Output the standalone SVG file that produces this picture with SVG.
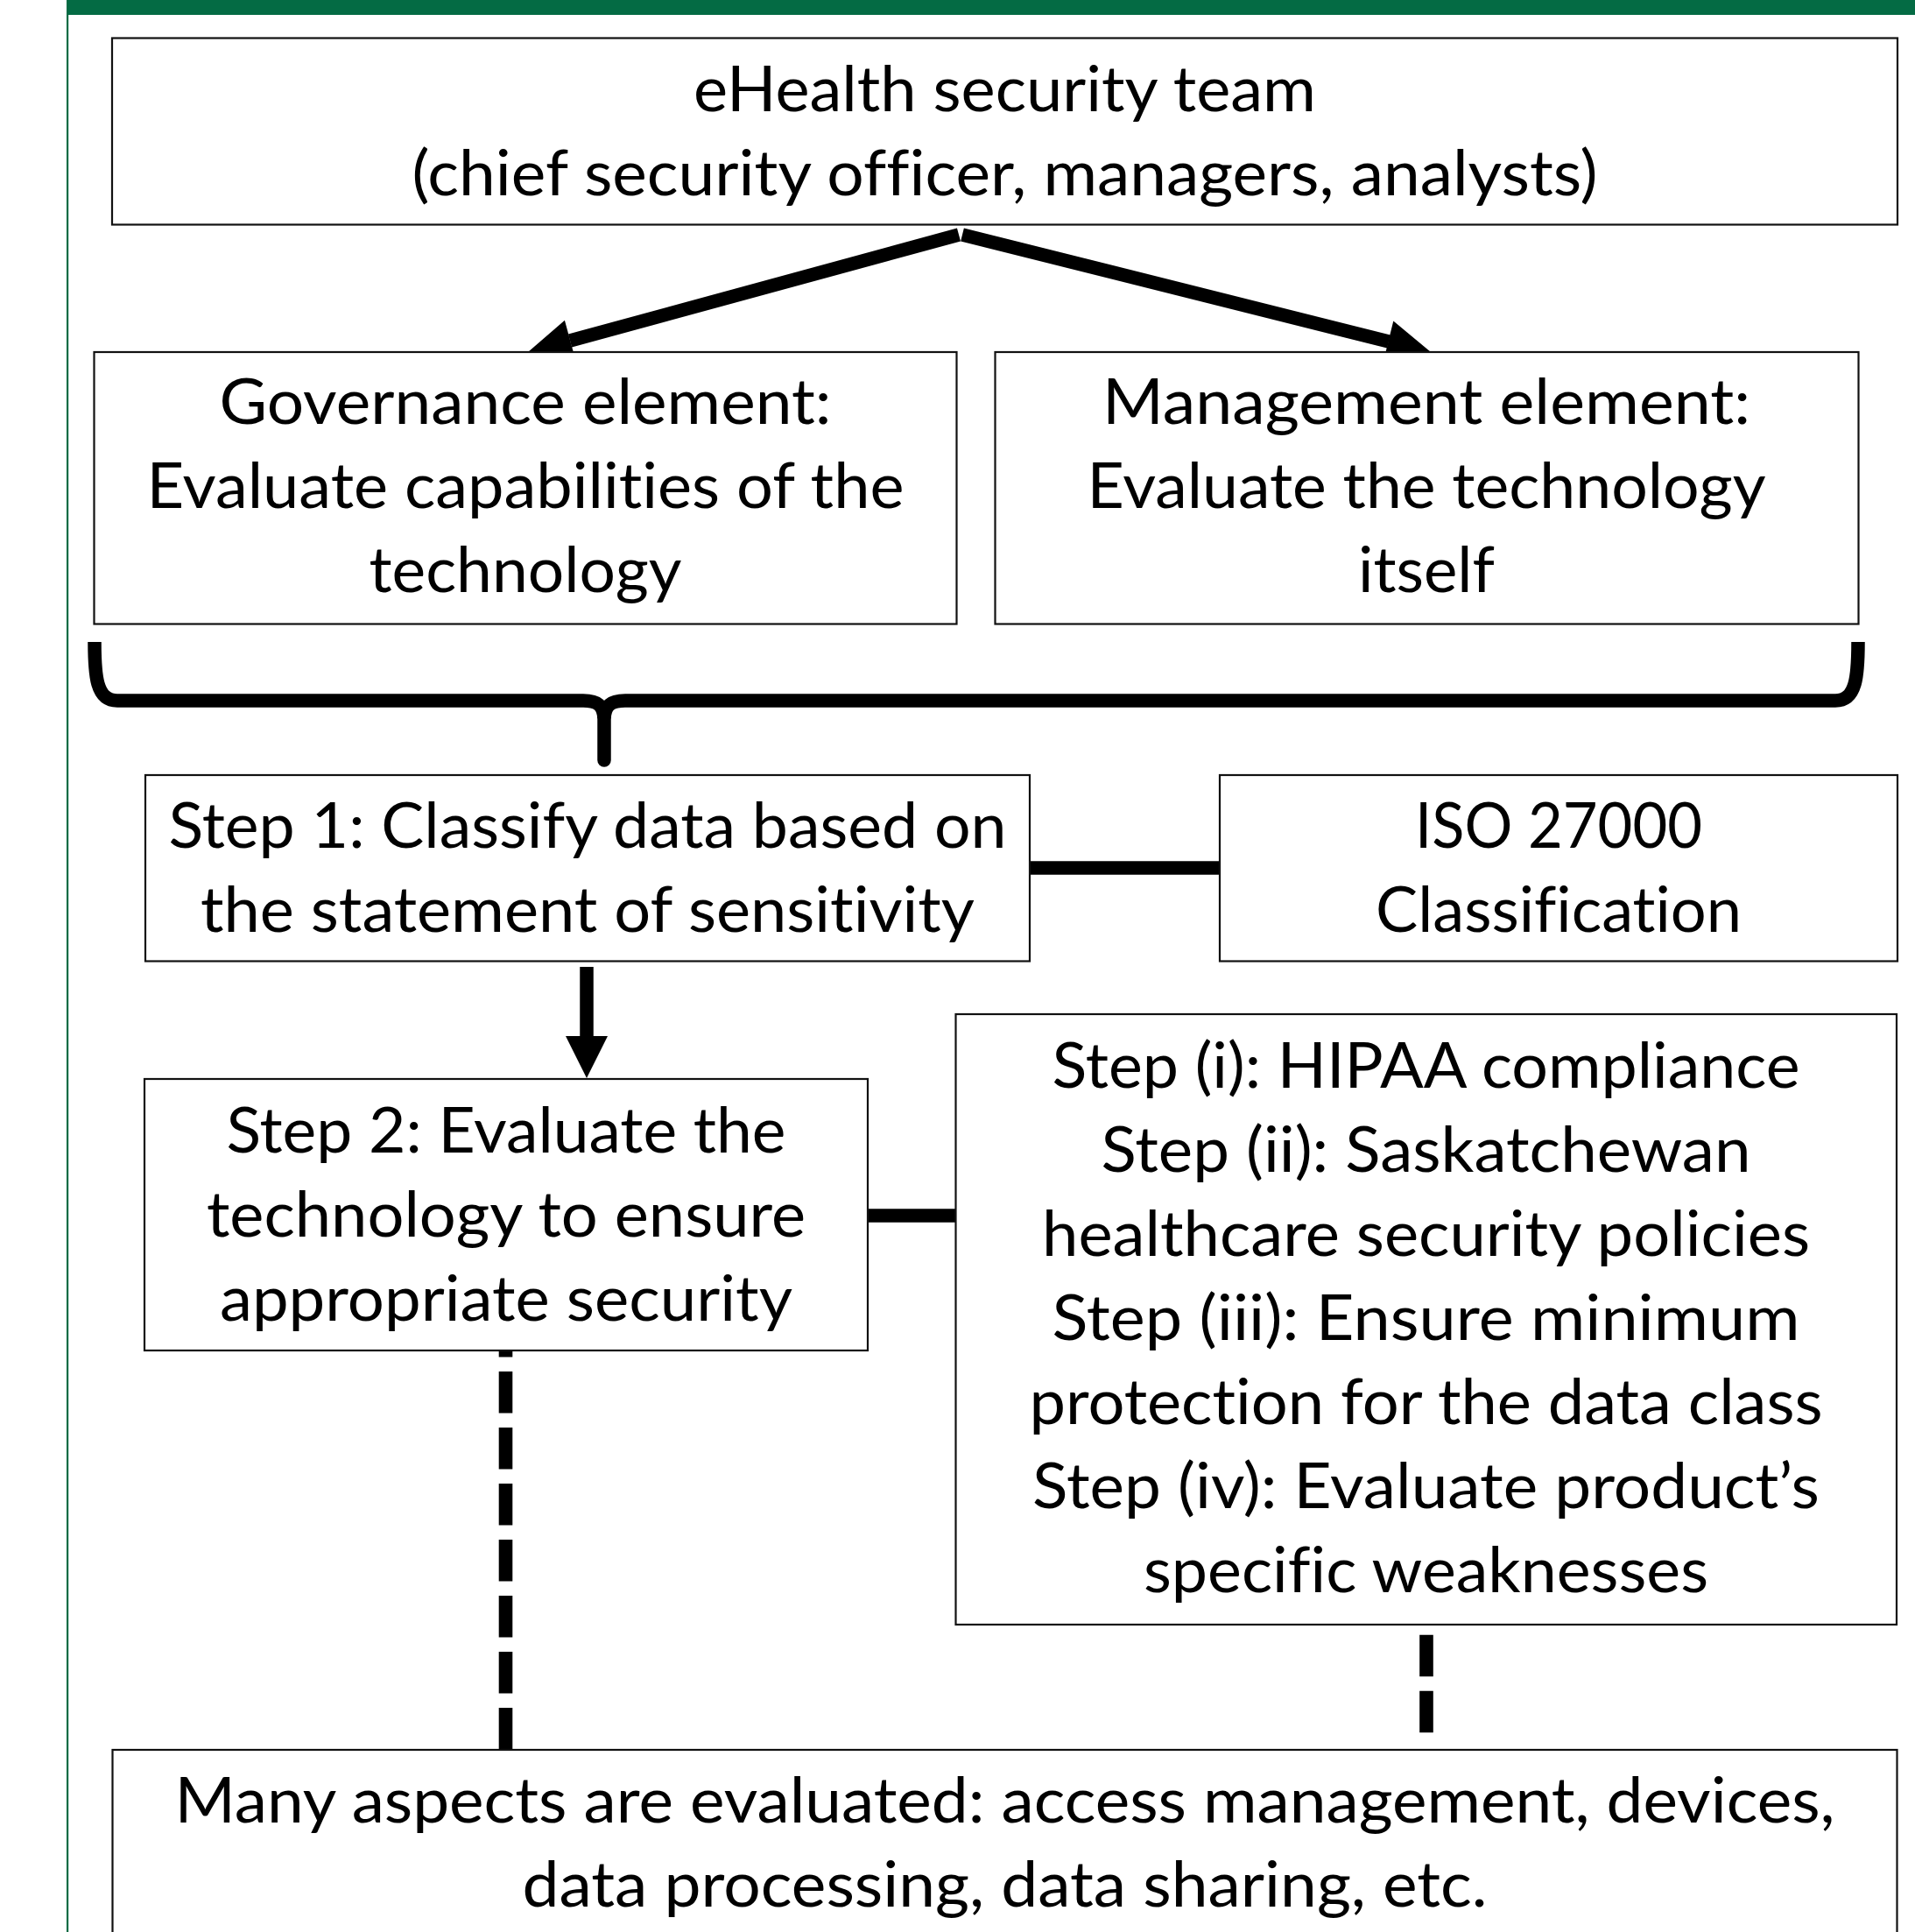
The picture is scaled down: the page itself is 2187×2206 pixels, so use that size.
<svg xmlns="http://www.w3.org/2000/svg" width="2187" height="2206" viewBox="0 0 2187 2206">
  <style>
    .box { fill: #ffffff; stroke: #111111; stroke-width: 2.2; }
    .lbl { font-family: "Lato", "Open Sans", "Liberation Sans", sans-serif; font-size: 72px; fill: #000000; font-variant-ligatures: none; }
    .wire { fill: none; stroke: #000000; stroke-width: 15.5; }
    .dash { fill: none; stroke: #000000; stroke-width: 15.6; stroke-dasharray: 47.6 16.4; }
    .head { fill: #000000; stroke: none; }
  </style>

  <!-- page frame: green header band and left rule -->
  <rect x="76" y="0" width="2111" height="17" fill="#046B44"/>
  <rect x="76" y="0" width="2.2" height="2206" fill="#046B44"/>

  <!-- connectors -->
  <g id="connectors">
    <!-- team to the two elements -->
    <line class="wire" x1="1095" y1="268" x2="651" y2="389"/>
    <polygon class="head" points="603,402 657.5,412.1 644.9,365.7"/>
    <line class="wire" x1="1099" y1="268" x2="1586" y2="390"/>
    <polygon class="head" points="1634,402 1579.7,413.2 1591.3,366.6"/>

    <!-- curly brace joining both elements into step 1 -->
    <path class="wire" stroke-width="16" d="M108,733 C108,772 110,800 134,800 L666,800 C683,800 689,806 690,820"/>
    <path class="wire" stroke-width="16" d="M2122,733 C2122,772 2120,800 2096,800 L714,800 C697,800 691,806 690,820"/>
    <path class="wire" stroke-width="15" stroke-linecap="round" d="M690,812 L690,868"/>

    <!-- step 1 to ISO 27000 -->
    <line class="wire" x1="1176" y1="991" x2="1393" y2="991"/>

    <!-- step 1 to step 2 -->
    <line class="wire" stroke-width="16" x1="670" y1="1104" x2="670" y2="1184"/>
    <polygon class="head" points="646,1183 694,1183 670,1231"/>

    <!-- step 2 to sub-steps -->
    <line class="wire" x1="991" y1="1388" x2="1091" y2="1388"/>

    <!-- dashed links down to the aspects box -->
    <line class="dash" x1="577.5" y1="1542" x2="577.5" y2="1998" stroke-dashoffset="40"/>
    <line class="dash" x1="1629" y1="1866.7" x2="1629" y2="1978.3"/>
  </g>

  <g id="team">
    <rect class="box" x="128" y="43.5" width="2039" height="213"/>
    <text class="lbl" x="792" y="127" textLength="711" lengthAdjust="spacingAndGlyphs">eHealth security team</text>
    <text class="lbl" x="470.5" y="223" textLength="1354" lengthAdjust="spacingAndGlyphs">(chief security officer, managers, analysts)</text>
  </g>

  <g id="governance">
    <rect class="box" x="107.5" y="402" width="985" height="310.5"/>
    <text class="lbl" x="250.5" y="484" textLength="699" lengthAdjust="spacingAndGlyphs">Governance element:</text>
    <text class="lbl" x="167.5" y="580" textLength="865" lengthAdjust="spacingAndGlyphs">Evaluate capabilities of the</text>
    <text class="lbl" x="421.5" y="676" textLength="357" lengthAdjust="spacingAndGlyphs">technology</text>
  </g>

  <g id="management">
    <rect class="box" x="1136.5" y="402" width="986" height="310.5"/>
    <text class="lbl" x="1259" y="484" textLength="740" lengthAdjust="spacingAndGlyphs">Management element:</text>
    <text class="lbl" x="1241.5" y="580" textLength="775" lengthAdjust="spacingAndGlyphs">Evaluate the technology</text>
    <text class="lbl" x="1551" y="676" textLength="156" lengthAdjust="spacingAndGlyphs">itself</text>
  </g>

  <g id="step1">
    <rect class="box" x="166" y="885" width="1010" height="212.5"/>
    <text class="lbl" x="192.5" y="967.5" textLength="957" lengthAdjust="spacingAndGlyphs">Step 1: Classify data based on</text>
    <text class="lbl" x="229" y="1063.5" textLength="884" lengthAdjust="spacingAndGlyphs">the statement of sensitivity</text>
  </g>

  <g id="iso">
    <rect class="box" x="1393" y="885" width="774" height="212.5"/>
    <text class="lbl" x="1616" y="967.5" textLength="328" lengthAdjust="spacingAndGlyphs">ISO 27000</text>
    <text class="lbl" x="1571" y="1063.5" textLength="418" lengthAdjust="spacingAndGlyphs">Classification</text>
  </g>

  <g id="step2">
    <rect class="box" x="165" y="1232" width="826" height="310"/>
    <text class="lbl" x="258.5" y="1315.5" textLength="639" lengthAdjust="spacingAndGlyphs">Step 2: Evaluate the</text>
    <text class="lbl" x="236" y="1411.5" textLength="684" lengthAdjust="spacingAndGlyphs">technology to ensure</text>
    <text class="lbl" x="251" y="1507.5" textLength="654" lengthAdjust="spacingAndGlyphs">appropriate security</text>
  </g>

  <g id="substeps">
    <rect class="box" x="1091.5" y="1158" width="1074.5" height="697"/>
    <text class="lbl" x="1201.5" y="1242" textLength="854" lengthAdjust="spacingAndGlyphs">Step (i): HIPAA compliance</text>
    <text class="lbl" x="1257.5" y="1338" textLength="742" lengthAdjust="spacingAndGlyphs">Step (ii): Saskatchewan</text>
    <text class="lbl" x="1190" y="1434" textLength="877" lengthAdjust="spacingAndGlyphs">healthcare security policies</text>
    <text class="lbl" x="1201.5" y="1530" textLength="854" lengthAdjust="spacingAndGlyphs">Step (iii): Ensure minimum</text>
    <text class="lbl" x="1175.5" y="1626" textLength="906" lengthAdjust="spacingAndGlyphs">protection for the data class</text>
    <text class="lbl" x="1179" y="1722" textLength="899" lengthAdjust="spacingAndGlyphs">Step (iv): Evaluate product’s</text>
    <text class="lbl" x="1306" y="1818" textLength="645" lengthAdjust="spacingAndGlyphs">specific weaknesses</text>
  </g>

  <g id="aspects">
    <rect class="box" x="128.5" y="1998" width="2038" height="300"/>
    <text class="lbl" x="199.5" y="2081" textLength="1896" lengthAdjust="spacingAndGlyphs">Many aspects are evaluated: access management, devices,</text>
    <text class="lbl" x="596.5" y="2177" textLength="1102" lengthAdjust="spacingAndGlyphs">data processing, data sharing, etc.</text>
  </g>
</svg>
